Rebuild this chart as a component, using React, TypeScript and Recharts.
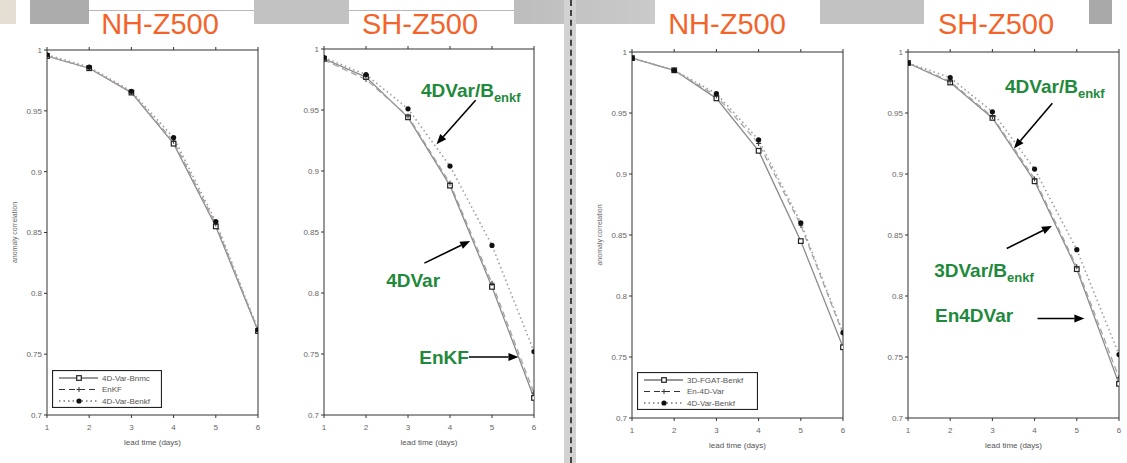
import React from 'react';
import { LineChart, Line, XAxis, YAxis, ReferenceLine, ReferenceDot, Label } from 'recharts';

// lead time axis and correlation ticks
const days = [1, 2, 3, 4, 5, 6];
const yTicks = [0.7, 0.75, 0.8, 0.85, 0.9, 0.95, 1];

// left pair: 4D-Var with NMC B vs EnKF vs 4D-Var with ensemble B
const nhBnmc = [0.995, 0.985, 0.965, 0.923, 0.855, 0.769];
const nhEnkf = [0.995, 0.985, 0.965, 0.925, 0.857, 0.770];
const nhBenkf = [0.996, 0.986, 0.966, 0.928, 0.859, 0.770];
const shBnmc = [0.992, 0.977, 0.944, 0.888, 0.805, 0.714];
const shEnkf = [0.991, 0.975, 0.945, 0.890, 0.808, 0.718];
const shBenkf = [0.993, 0.979, 0.951, 0.904, 0.839, 0.752];

// right pair: 3D-FGAT vs En-4D-Var vs 4D-Var, all with ensemble B
const nhFgat = [0.995, 0.985, 0.962, 0.919, 0.845, 0.758];
const nhEn4d = [0.995, 0.985, 0.964, 0.925, 0.858, 0.769];
const nhBenkf2 = [0.995, 0.985, 0.966, 0.928, 0.860, 0.770];
const shFgat = [0.991, 0.975, 0.946, 0.894, 0.822, 0.728];
const shEn4d = [0.991, 0.976, 0.947, 0.896, 0.824, 0.733];
const shBenkf2 = [0.991, 0.979, 0.951, 0.904, 0.838, 0.752];

const leftNames = ['4D-Var-Bnmc', 'EnKF', '4D-Var-Benkf'];
const rightNames = ['3D-FGAT-Benkf', 'En-4D-Var', '4D-Var-Benkf'];

const GREEN = '#1f8a3b';
const ORANGE = '#f2642a';
const YW = 40, RW = 6, TH = 6, BH = 40;

type Kind = 'solid' | 'dashed' | 'dotted';
const kinds: Kind[] = ['solid', 'dashed', 'dotted'];

const lineStyle: Record<Kind, { stroke: string; width: number; dash?: string }> = {
  solid: { stroke: '#8c8c8c', width: 1.3 },
  dashed: { stroke: '#a0a0a0', width: 1.2, dash: '6 4' },
  dotted: { stroke: '#a8989c', width: 1.6, dash: '1.5 3' },
};

const marker = (kind: Kind, cx: number, cy: number, key?: any) => {
  if (kind === 'solid')
    return <rect key={key} x={cx - 2.3} y={cy - 2.3} width={4.6} height={4.6} fill="#fff" stroke="#222" strokeWidth={1.2} />;
  if (kind === 'dashed')
    return (
      <g key={key}>
        <line x1={cx - 2.5} y1={cy} x2={cx + 2.5} y2={cy} stroke="#333" strokeWidth={1} />
        <line x1={cx} y1={cy - 2.5} x2={cx} y2={cy + 2.5} stroke="#333" strokeWidth={1} />
      </g>
    );
  return <circle key={key} cx={cx} cy={cy} r={2.6} fill="#111" />;
};

type Note = { text: string; sub?: string; tx: number; ty: number; a: [number, number, number, number] };

const sh1Notes: Note[] = [
  { text: '4DVar/B', sub: 'enkf', tx: 3.31, ty: 0.961, a: [4.61, 0.958, 3.68, 0.922] },
  { text: '4DVar', tx: 2.48, ty: 0.805, a: [3.39, 0.8245, 4.48, 0.8427] },
  { text: 'EnKF', tx: 3.27, ty: 0.742, a: [4.45, 0.7476, 5.63, 0.7476] },
];
const sh2Notes: Note[] = [
  { text: '4DVar/B', sub: 'enkf', tx: 3.3, ty: 0.9668, a: [4.42, 0.958, 3.51, 0.921] },
  { text: '3DVar/B', sub: 'enkf', tx: 1.62, ty: 0.8158, a: [3.34, 0.839, 4.41, 0.8574] },
  { text: 'En4DVar', tx: 1.64, ty: 0.7788, a: [4.07, 0.7816, 5.18, 0.7816] },
];

const arrowShape = (p: any) => {
  const { x1, y1, x2, y2 } = p;
  const ang = Math.atan2(y2 - y1, x2 - x1);
  const L = 10, W = 4;
  const bx = x2 - L * Math.cos(ang), by = y2 - L * Math.sin(ang);
  const px = -Math.sin(ang) * W, py = Math.cos(ang) * W;
  return (
    <g>
      <line x1={x1} y1={y1} x2={bx} y2={by} stroke="#000" strokeWidth={1.6} />
      <polygon points={`${x2},${y2} ${bx + px},${by + py} ${bx - px},${by - py}`} fill="#000" />
    </g>
  );
};

interface PanelProps {
  box: { l: number; r: number; t: number; b: number };
  title: string;
  titleX: number;
  series: number[][];
  yLabel?: boolean;
  notes?: Note[];
}

const Panel = ({ box, title, titleX, series, yLabel, notes = [] }: PanelProps) => {
  const data = days.map((d, i) => ({ day: d, s0: series[0][i], s1: series[1][i], s2: series[2][i] }));
  const w = box.r - box.l + YW + RW;
  const h = box.b - box.t + TH + BH;
  return (
    <>
      <div style={{ position: 'absolute', left: titleX - 80, width: 160, top: 7, textAlign: 'center', color: ORANGE, fontSize: 29, lineHeight: '34px' }}>
        {title}
      </div>
      <div style={{ position: 'absolute', left: box.l - YW, top: box.t - TH }}>
        <LineChart width={w} height={h} data={data} margin={{ top: 0, right: 0, bottom: 0, left: 0 }}>
          <XAxis xAxisId="b" dataKey="day" type="number" domain={[1, 6]} ticks={days} height={BH}
            tickSize={3} tickMargin={6} stroke="#333" tick={{ fontSize: 8, fill: '#666' }} allowDataOverflow>
            <Label value="lead time (days)" position="insideBottom" offset={10} style={{ fontSize: 8, fill: '#555' }} />
          </XAxis>
          <XAxis xAxisId="t" orientation="top" dataKey="day" type="number" domain={[1, 6]} ticks={days} height={TH}
            tickSize={3} stroke="#333" tickFormatter={() => ''} />
          <YAxis yAxisId="l" type="number" domain={[0.7, 1]} ticks={yTicks} width={YW} tickSize={3} tickMargin={2}
            stroke="#333" tick={{ fontSize: 8, fill: '#666' }} allowDataOverflow>
            {yLabel && (
              <Label content={(p: any) => {
                const vb = p.viewBox;
                const x = vb.x + 7, y = vb.y + vb.height / 2;
                return <text x={x} y={y} transform={`rotate(-90 ${x} ${y})`} textAnchor="middle" dominantBaseline="central" fontSize={7} fill="#666">anomaly correlation</text>;
              }} />
            )}
          </YAxis>
          <YAxis yAxisId="r" orientation="right" type="number" domain={[0.7, 1]} ticks={yTicks} width={RW}
            tickSize={3} stroke="#333" tickFormatter={() => ''} />
          {kinds.map((k, i) => (
            <Line key={k} xAxisId="b" yAxisId="l" dataKey={`s${i}`} type="linear" isAnimationActive={false}
              stroke={lineStyle[k].stroke} strokeWidth={lineStyle[k].width} strokeDasharray={lineStyle[k].dash}
              dot={(p: any) => marker(k, p.cx, p.cy, `${k}-${p.index}`)} activeDot={false} />
          ))}
          {notes.map((n, i) => (
            <ReferenceLine key={`a${i}`} xAxisId="b" yAxisId="l" segment={[{ x: n.a[0], y: n.a[1] }, { x: n.a[2], y: n.a[3] }]}
              shape={arrowShape} />
          ))}
          {notes.map((n, i) => (
            <ReferenceDot key={`t${i}`} xAxisId="b" yAxisId="l" x={n.tx} y={n.ty} r={1}
              shape={(p: any) => (
                <text x={p.cx} y={p.cy} fill={GREEN} fontSize={19} fontWeight="bold">
                  {n.text}
                  {n.sub && <tspan dy={5} fontSize={13}>{n.sub}</tspan>}
                </text>
              )} />
          ))}
        </LineChart>
      </div>
    </>
  );
};

const LegendBox = ({ left, top, width, names }: { left: number; top: number; width: number; names: string[] }) => (
  <svg style={{ position: 'absolute', left, top }} width={width} height={38}>
    <rect x={0.5} y={0.5} width={width - 1} height={37} fill="#fff" stroke="#222" strokeWidth={1.2} />
    {names.map((nm, i) => {
      const k = kinds[i];
      const y = 8 + i * 11.5;
      return (
        <g key={nm}>
          <line x1={7} y1={y} x2={46} y2={y} stroke="#333" strokeWidth={1.2} strokeDasharray={lineStyle[k].dash} />
          {marker(k, 27, y)}
          <text x={50} y={y} dominantBaseline="central" fontSize={8} fill="#555">{nm}</text>
        </g>
      );
    })}
  </svg>
);

export default function App() {
  return (
    <div style={{ position: 'relative', width: 1127, height: 463, background: '#fff', overflow: 'hidden', fontFamily: '"Liberation Sans", Arial, sans-serif' }}>
      <style>{'body{margin:0}'}</style>
      {/* slide header decoration */}
      <div style={{ position: 'absolute', left: 0, top: 0, width: 16, height: 24, background: '#e5ded3' }} />
      <div style={{ position: 'absolute', left: 30, top: 0, width: 59, height: 24, background: '#acacac' }} />
      <div style={{ position: 'absolute', left: 89, top: 10, width: 165, height: 1, background: '#b8b8b8' }} />
      <div style={{ position: 'absolute', left: 254, top: 0, width: 95, height: 24, background: '#c2c2c2' }} />
      <div style={{ position: 'absolute', left: 349, top: 10, width: 165, height: 1, background: '#b8b8b8' }} />
      <div style={{ position: 'absolute', left: 514, top: 0, width: 141, height: 24, background: 'linear-gradient(90deg,#bdbdbd,#cacaca)' }} />
      <div style={{ position: 'absolute', left: 820, top: 0, width: 104, height: 24, background: '#c2c2c2' }} />
      <div style={{ position: 'absolute', left: 1089, top: 0, width: 23, height: 24, background: '#a9a9a9' }} />
      <div style={{ position: 'absolute', left: 564, top: 0, width: 12, height: 463, background: '#d2d2d2' }} />
      <div style={{ position: 'absolute', left: 570, top: 0, width: 0, height: 463, borderLeft: '2px dashed #444' }} />

      <Panel box={{ l: 47, r: 258, t: 50, b: 415 }} title="NH-Z500" titleX={160} series={[nhBnmc, nhEnkf, nhBenkf]} yLabel />
      <Panel box={{ l: 324, r: 534, t: 49, b: 415 }} title="SH-Z500" titleX={420} series={[shBnmc, shEnkf, shBenkf]} notes={sh1Notes} />
      <Panel box={{ l: 632, r: 843, t: 52, b: 418 }} title="NH-Z500" titleX={727} series={[nhFgat, nhEn4d, nhBenkf2]} yLabel />
      <Panel box={{ l: 908, r: 1119, t: 52, b: 418 }} title="SH-Z500" titleX={996} series={[shFgat, shEn4d, shBenkf2]} notes={sh2Notes} />

      <LegendBox left={52} top={370} width={110} names={leftNames} />
      <LegendBox left={637} top={372} width={121} names={rightNames} />
    </div>
  );
}
